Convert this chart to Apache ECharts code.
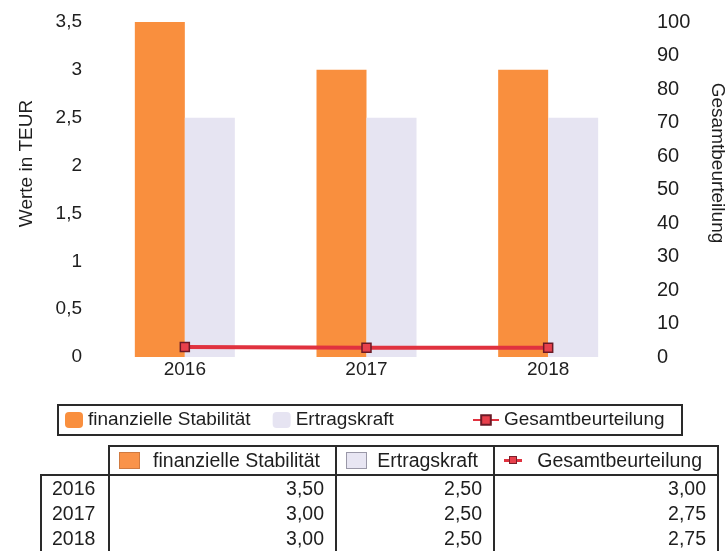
<!DOCTYPE html>
<html>
<head>
<meta charset="utf-8">
<script src="https://cdn.jsdelivr.net/npm/echarts@6/dist/echarts.min.js"></script>
<style>
  body { margin: 0; background: #fff; }
  #main { width: 727px; height: 552px; position: absolute; left: 0; top: 0; }
  #tbl {
    position: absolute; left: 40px; top: 445px;
    border-collapse: collapse; table-layout: fixed;
    font-family: "Liberation Sans", Arial, sans-serif; font-size: 19.5px; color: #1e1e1e;
  }
  #tbl th { height: 27px; padding: 0; font-weight: normal; border: 2px solid #2a2a2a; }
  #tbl th.blank { border: none; }
  #tbl th .cell { display: flex; justify-content: space-between; align-items: center; padding: 0 15px 0 9px; }
  #tbl td { height: 25px; padding: 0 11px 0 0; text-align: right; border-left: 2px solid #2a2a2a; border-right: 2px solid #2a2a2a; line-height: 25px; }
  #tbl td.yr { text-align: left; padding: 0 0 0 10px; }
  #tbl tr.r1 td.yr { border-top: 2px solid #2a2a2a; }
  .ico { display: inline-block; width: 21px; height: 17px; box-sizing: border-box; }
  .ico.o { background: #f9934a; border: 1px solid #d07a40; }
  .ico.l { background: #e8e6f3; border: 1px solid #9a98a8; }
  .ico.r { position: relative; width: 18px; }
  .ico.r:before { content: ""; position: absolute; left: 0; right: 0; top: 7px; height: 3px; background: #e0323f; }
  .ico.r:after { content: ""; position: absolute; left: 5px; top: 4px; width: 8px; height: 8px; box-sizing: border-box; background: #e8404c; border: 1.5px solid #7a1f2a; }
</style>
</head>
<body>
<div id="main"></div>
<table id="tbl"></table>
<script>
// Daten
var years = ['2016', '2017', '2018'];
var stabilitaet = [3.5, 3.0, 3.0];
var ertragskraft = [2.5, 2.5, 2.5];
var gesamt = [3.0, 2.75, 2.75];
var seriesNames = ['finanzielle Stabilität', 'Ertragskraft', 'Gesamtbeurteilung'];

var font = '"Liberation Sans", Arial, sans-serif';
var komma = function (v) { return String(v).replace('.', ','); };

var myChart = echarts.init(document.getElementById('main'));

var option = {
  animation: false,
  grid: { left: 94, right: 88, top: 22, bottom: 195, outerBoundsMode: 'none' },
  legend: [
    {
      data: [seriesNames[0], seriesNames[1]],
      left: 65, top: 410, padding: 0,
      itemWidth: 18, itemHeight: 16, itemGap: 22,
      textStyle: { fontSize: 19, color: '#1e1e1e', fontFamily: font, lineHeight: 20 }
    },
    {
      data: [seriesNames[2]],
      left: 472, top: 410, padding: 0,
      itemWidth: 26, itemHeight: 12,
      textStyle: { fontSize: 19, color: '#1e1e1e', fontFamily: font, lineHeight: 20 }
    }
  ],
  graphic: [
    { type: 'rect', shape: { x: 58, y: 405, width: 624, height: 30 },
      style: { fill: 'none', stroke: '#2a2a2a', lineWidth: 2 } }
  ],
  xAxis: {
    type: 'category',
    data: years,
    axisLine: { show: false },
    axisTick: { show: false },
    axisLabel: { fontSize: 19, color: '#1e1e1e', fontFamily: font, margin: 3 }
  },
  yAxis: [
    {
      type: 'value', min: 0, max: 3.5, interval: 0.5,
      name: 'Werte in TEUR', nameLocation: 'middle', nameRotate: 90, nameGap: 58,
      nameTextStyle: { fontSize: 19, color: '#1e1e1e', fontFamily: font, padding: [0, 0, 0, 52] },
      splitLine: { show: false }, axisLine: { show: false }, axisTick: { show: false },
      axisLabel: { fontSize: 19, color: '#1e1e1e', fontFamily: font, margin: 12, formatter: komma }
    },
    {
      type: 'value', min: 0, max: 100, interval: 10,
      name: 'Gesamtbeurteilung', nameLocation: 'middle', nameRotate: -90, nameGap: 69,
      nameTextStyle: { fontSize: 19, color: '#1e1e1e', fontFamily: font, padding: [0, 53, 0, 0] },
      splitLine: { show: false }, axisLine: { show: false }, axisTick: { show: false },
      axisLabel: { fontSize: 20, color: '#1e1e1e', fontFamily: font, margin: 18 }
    }
  ],
  series: [
    {
      name: seriesNames[0], type: 'bar', data: stabilitaet,
      barWidth: 50, barGap: 0,
      itemStyle: { color: '#f98f3e' }
    },
    {
      name: seriesNames[1], type: 'bar', data: ertragskraft,
      barWidth: 50, barGap: 0,
      itemStyle: { color: '#e6e4f2' }
    },
    {
      name: seriesNames[2], type: 'line', yAxisIndex: 1, data: gesamt,
      symbol: 'rect', symbolSize: 9,
      lineStyle: { color: '#e0323f', width: 4 },
      itemStyle: { color: '#e8404c', borderColor: '#6b1a26', borderWidth: 1.5 },
      z: 5
    }
  ]
};

myChart.setOption(option);

// Datentabelle unter dem Diagramm
var icons = ['o', 'l', 'r'];
var html = '<colgroup><col style="width:68px"><col style="width:227px"><col style="width:158px"><col style="width:224px"></colgroup>';
html += '<tr><th class="blank"></th>';
for (var i = 0; i < seriesNames.length; i++) {
  html += '<th><div class="cell"><span class="ico ' + icons[i] + '"></span><span>' + seriesNames[i] + '</span></div></th>';
}
html += '</tr>';
for (var j = 0; j < years.length; j++) {
  html += '<tr class="' + (j === 0 ? 'r1' : 'rn') + '"><td class="yr">' + years[j] + '</td>';
  [stabilitaet, ertragskraft, gesamt].forEach(function (arr) {
    html += '<td>' + arr[j].toFixed(2).replace('.', ',') + '</td>';
  });
  html += '</tr>';
}
document.getElementById('tbl').innerHTML = html;
</script>
</body>
</html>
